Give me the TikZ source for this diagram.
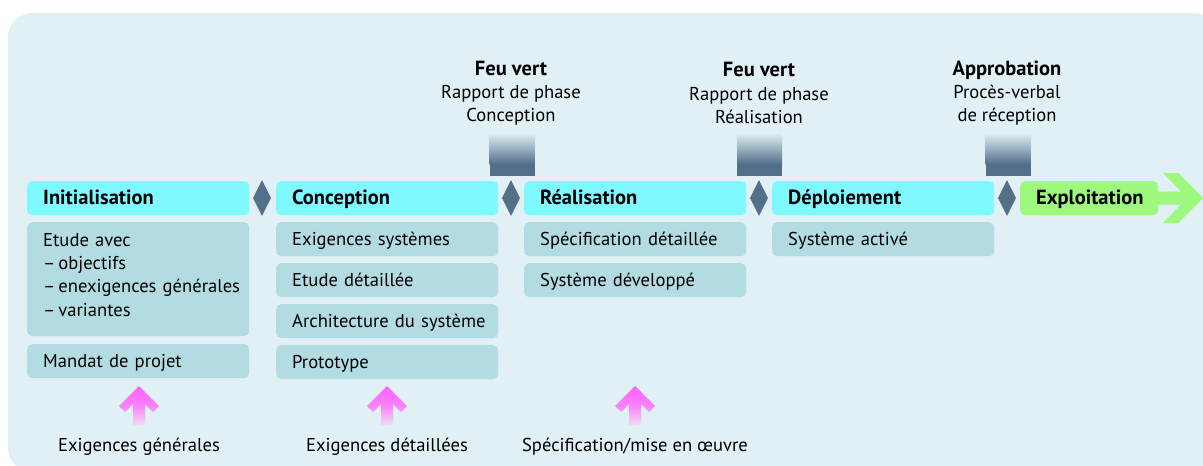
\documentclass[tikz,border=0pt]{standalone}
\usepackage{fontspec}
\setmainfont{PT Sans}
\usetikzlibrary{shapes.geometric}
\definecolor{bgc}{HTML}{E0F0F4}
\definecolor{headc}{HTML}{80F8FF}
\definecolor{subc}{HTML}{B3DCE2}
\definecolor{greenc}{HTML}{9EF87E}
\definecolor{diac}{HTML}{53708A}
\definecolor{pinktop}{HTML}{FF5CFF}
\definecolor{pinkbot}{HTML}{EEDCF4}
\newcommand{\regfont}{\fontsize{18.6}{23.3}\selectfont}
\newcommand{\boldfnt}{\fontsize{20.5}{23.3}\selectfont\bfseries}
\tikzset{
  base/.style={anchor=north west, rounded corners=5pt, inner xsep=16pt, inner ysep=0pt,
    minimum height=34pt, text width=190pt, align=left, font=\regfont,
    text height=14pt, text depth=2pt},
  head/.style={base, fill=headc, font=\boldfnt},
  sub/.style={base, fill=subc},
  milestone/.style={diamond, fill=diac, minimum width=18pt, minimum height=36pt, inner sep=0pt},
  gate/.style={align=center, font=\regfont},
  foot/.style={font=\regfont},
}
\begin{document}
\begin{tikzpicture}[x=1pt,y=-1pt]
\useasboundingbox (0,0) rectangle (1203,466);
\begin{scope}
  \clip (0,0) rectangle (1203,466);
  \fill[bgc, rounded corners=24pt] (8,13) rectangle (1218,472);
\end{scope}

% gate squares
\foreach \cx in {512,759.5,1008}{
  \shade[top color=bgc, bottom color=diac] (\cx-22.5,133) rectangle (\cx+22.5,164);
  \fill[diac] (\cx-22.5,163.5) rectangle (\cx+22.5,176);
}

% gate texts
\node[gate] (g1) at (511,93) {{\boldfnt Feu vert}\\Rapport de phase\\Conception};
\node[gate] (g2) at (759,93) {{\boldfnt Feu vert}\\Rapport de phase\\Réalisation};
\node[gate] (g3) at (1007,93) {{\boldfnt Approbation}\\Procès-verbal\\de réception};

% phase headers
\node[head] (init) at (27,181) {Initialisation};
\node[head] (conc) at (276,181) {Conception};
\node[head] (real) at (524,181) {Réalisation};
\node[head] (depl) at (772,181) {Déploiement};

% exploitation arrow
\fill[greenc] (1150,191.5) -- (1181,191.5) -- (1163,173) -- (1178,173) -- (1203,198)
  -- (1178,223) -- (1163,223) -- (1181,204.5) -- (1150,204.5) -- cycle;
\node[base, fill=greenc, text width=106pt, font=\boldfnt] (expl) at (1020,181) {Exploitation};

% milestones
\node[milestone] (d1) at (262,198) {};
\node[milestone] (d2) at (511,198) {};
\node[milestone] (d3) at (759,198) {};
\node[milestone] (d4) at (1007,198) {};

% sub boxes
\node[sub, text height=, text depth=, inner ysep=11pt] (etude) at (27,222) {\parbox[t][92pt][t]{190pt}{\mbox{Etude avec}\\\mbox{–\hspace{3pt}objectifs}\\\mbox{–\hspace{3pt}enexigences générales}\\\mbox{–\hspace{3pt}variantes}}};
\node[sub] (mandat) at (27,344) {Mandat de projet};

\node[sub] (exsys) at (276,222) {Exigences systèmes};
\node[sub] (etdet) at (276,263) {Etude détaillée};
\node[sub] (arch) at (276,304) {\mbox{Architecture du système}};
\node[sub] (proto) at (276,345) {Prototype};

\node[sub] (spec) at (524,222) {\mbox{Spécification détaillée}};
\node[sub] (sysdev) at (524,263) {Système développé};

\node[sub] (sysact) at (772,222) {Système activé};

% pink arrows
\foreach \cx in {139,387,635}{
  \shade[top color=pinktop, bottom color=pinkbot, middle color=pinktop!70!pinkbot]
    (\cx,386) -- (\cx+20,406) -- (\cx+14,412) -- (\cx+6,404) -- (\cx+6,425)
    -- (\cx-6,425) -- (\cx-6,404) -- (\cx-14,412) -- (\cx-20,406) -- cycle;
}

% inputs
\node[foot] (in1) at (139,447) {Exigences générales};
\node[foot] (in2) at (387,447) {Exigences détaillées};
\node[foot] (in3) at (635,447) {Spécification/mise en œuvre};
\end{tikzpicture}
\end{document}
